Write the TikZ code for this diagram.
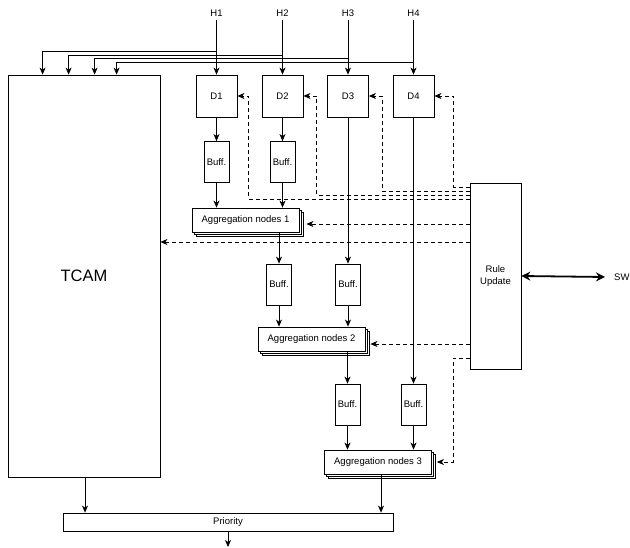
\documentclass[tikz,border=0pt]{standalone}
\usepackage{fontspec}
\setmainfont{Liberation Sans}
\usetikzlibrary{arrows.meta,shadows}
\begin{document}
\begin{tikzpicture}[x=1pt,y=-1pt,
  every node/.style={font=\fontsize{9.5}{11.5}\selectfont},
  box/.style={draw,line width=0.8pt,fill=white,inner sep=0pt,anchor=center},
  dbox/.style={box,minimum width=41pt,minimum height=42pt},
  buffbox/.style={box,minimum width=25pt,minimum height=41pt},
  aggbox/.style={box,minimum width=107pt,minimum height=24pt,
    double copy shadow={shadow xshift=2pt,shadow yshift=-2pt}},
  lbl/.style={inner sep=2pt,outer sep=2pt},
  conn/.style={line width=0.8pt,-{Stealth[length=7pt,width=6pt,inset=2pt]}},
  dconn/.style={conn,dash pattern=on 4pt off 3pt},
  dline/.style={line width=0.8pt,dash pattern=on 4pt off 3pt}
]
\useasboundingbox (0,0) rectangle (630,548);

% top labels
\node[lbl] (h1) at (216.5,13) {H1};
\node[lbl] (h2) at (282.5,13) {H2};
\node[lbl] (h3) at (348,13) {H3};
\node[lbl] (h4) at (413.5,13) {H4};

% boxes
\node[box,minimum width=152pt,minimum height=402pt,font=\fontsize{16.5}{18}\selectfont] (tcam) at (84,276) {TCAM};
\node[dbox] (d1) at (216.5,96) {D1};
\node[dbox] (d2) at (282.5,96) {D2};
\node[dbox] (d3) at (348,96) {D3};
\node[dbox] (d4) at (413.5,96) {D4};

\node[buffbox] (b1) at (216.5,162) {Buff.};
\node[buffbox] (b2) at (282.5,162) {Buff.};
\node[buffbox] (b3) at (279,284.5) {Buff.};
\node[buffbox] (b4) at (348,284.5) {Buff.};
\node[buffbox] (b5) at (347.5,404.5) {Buff.};
\node[buffbox] (b6) at (413.5,404.5) {Buff.};

\node[aggbox] (a1) at (245.5,220) {Aggregation nodes 1};
\node[aggbox] (a2) at (311.5,339) {Aggregation nodes 2};
\node[aggbox] (a3) at (378,462) {Aggregation nodes 3};

\node[box,minimum width=51pt,minimum height=186pt,align=center] (ru) at (495.5,276) {Rule\\Update};
\node[inner sep=0pt,anchor=west] (sw) at (614,277) {SW};

\node[box,minimum width=330pt,minimum height=18pt] (prio) at (228,522) {Priority};
\coordinate (out) at (228,547);

% header inputs
\draw[conn] (h1) -- (d1);
\draw[conn] (h2) -- (d2);
\draw[conn] (h3) -- (d3);
\draw[conn] (h4) -- (d4);
\draw[conn] (h1.south |- 0,51) -| ([xshift=35pt]tcam.north west);
\draw[conn] (h2.south |- 0,55) -| ([xshift=61pt]tcam.north west);
\draw[conn] (h3.south |- 0,58.5) -| ([xshift=87pt]tcam.north west);
\draw[conn] (h4.south |- 0,62) -| ([xshift=109pt]tcam.north west);

% data path
\draw[conn] (d1) -- (b1);
\draw[conn] (d2) -- (b2);
\draw[conn] (b1) -- (b1 |- a1.north);
\draw[conn] (b2) -- (b2 |- a1.north);
\draw[conn] (d3) -- (b4);
\draw[conn] (b3 |- a1.south) -- (b3);
\draw[conn] (b3) -- (b3 |- a2.north);
\draw[conn] (b4) -- (b4 |- a2.north);
\draw[conn] (d4) -- (b6);
\draw[conn] (b5 |- a2.south) -- (b5);
\draw[conn] (b5) -- (b5 |- a3.north);
\draw[conn] (b6) -- (b6 |- a3.north);
\draw[conn] ([xshift=1pt]tcam.south) -- ([xshift=1pt]tcam.south |- prio.north);
\draw[conn] ([xshift=3pt]a3.south) -- ([xshift=3pt]a3.south |- prio.north);
\draw[conn] (prio) -- (out);

% rule update control (dashed)
\draw[dconn] (ru.west |- 0,199) -| ([xshift=11pt]d1.east) -- (d1.east);
\draw[dconn] (ru.west |- 0,195) -| ([xshift=13pt]d2.east) -- (d2.east);
\draw[dconn] (ru.west |- 0,191) -| ([xshift=13pt]d3.east) -- (d3.east);
\draw[dconn] (ru.west |- 0,187) -| ([xshift=19pt]d4.east) -- (d4.east);
\draw[dconn] (ru.west |- 0,224) -- ([xshift=7pt]a1.east |- 0,224);
\draw[dconn] (ru.west |- 0,242) -- (tcam.east |- 0,242);
\draw[dconn] (ru.west |- 0,344) -- ([xshift=5pt]a2.east |- 0,344);
\draw[dconn] (ru.west |- 0,358) -| ([xshift=21pt]a3.east) -- ([xshift=5pt]a3.east);

% SW link
\draw[line width=1.8pt,{Stealth[length=9pt,width=9pt,inset=3pt]}-{Stealth[length=9pt,width=9pt,inset=3pt]}] (ru.east) -- ([xshift=-9pt]sw.west);
\end{tikzpicture}
\end{document}
